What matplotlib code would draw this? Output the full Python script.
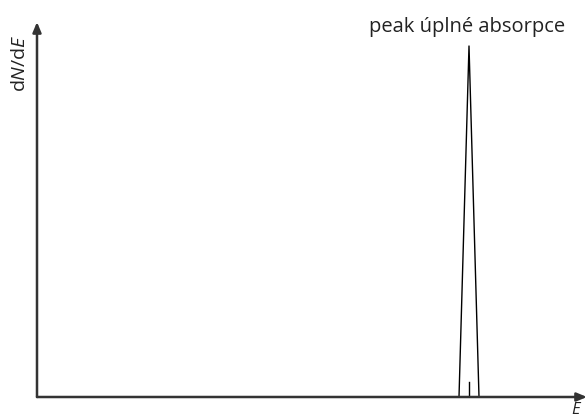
import matplotlib.pyplot as plt

# energy axis in arbitrary units, origin at the axis corner
peak_e = [422, 432, 442]
peak_counts = [0, 351, 0]
marker_e = [432, 432]
marker_counts = [0, 15]

peak_label = 'peak úplné absorpce'
x_label = 'E'
y_label = 'd$\\it{N}$/d$\\it{E}$'

plt.rcParams['font.family'] = ['Open Sans', 'DejaVu Sans']
plt.rcParams['mathtext.fontset'] = 'custom'
plt.rcParams['mathtext.it'] = 'Open Sans:italic'

fig = plt.figure(figsize=(5.87, 4.19), dpi=100)
ax = fig.add_axes([37 / 587, 22 / 419, 550 / 587, 375 / 419])
ax.set_xlim(0, 550)
ax.set_ylim(0, 375)
ax.axis('off')

# axes drawn as arrows
arrow = dict(arrowstyle='-|>,head_length=0.6,head_width=0.25', color='#333333', lw=1.8,
             shrinkA=0, shrinkB=0)
ax.annotate('', xy=(1, 0), xytext=(0, 0), xycoords='axes fraction', arrowprops=arrow)
ax.annotate('', xy=(0, 1), xytext=(0, 0), xycoords='axes fraction', arrowprops=arrow)

ax.plot(peak_e, peak_counts, color='black', lw=1.0, clip_on=False)
ax.plot(marker_e, marker_counts, color='black', lw=1.0)

fig.text(467 / 587, 1 - 32 / 419, peak_label, ha='center', va='baseline', fontsize=14.5,
         color='#222222')
fig.text(576 / 587, 1 - 410 / 419, x_label, ha='center', va='center', fontsize=12,
         style='italic', color='#222222')
fig.text(20 / 587, 1 - 63 / 419, y_label, rotation=90, ha='center',
         va='center', fontsize=14, color='#222222')

fig.savefig('out.png', dpi=100)
